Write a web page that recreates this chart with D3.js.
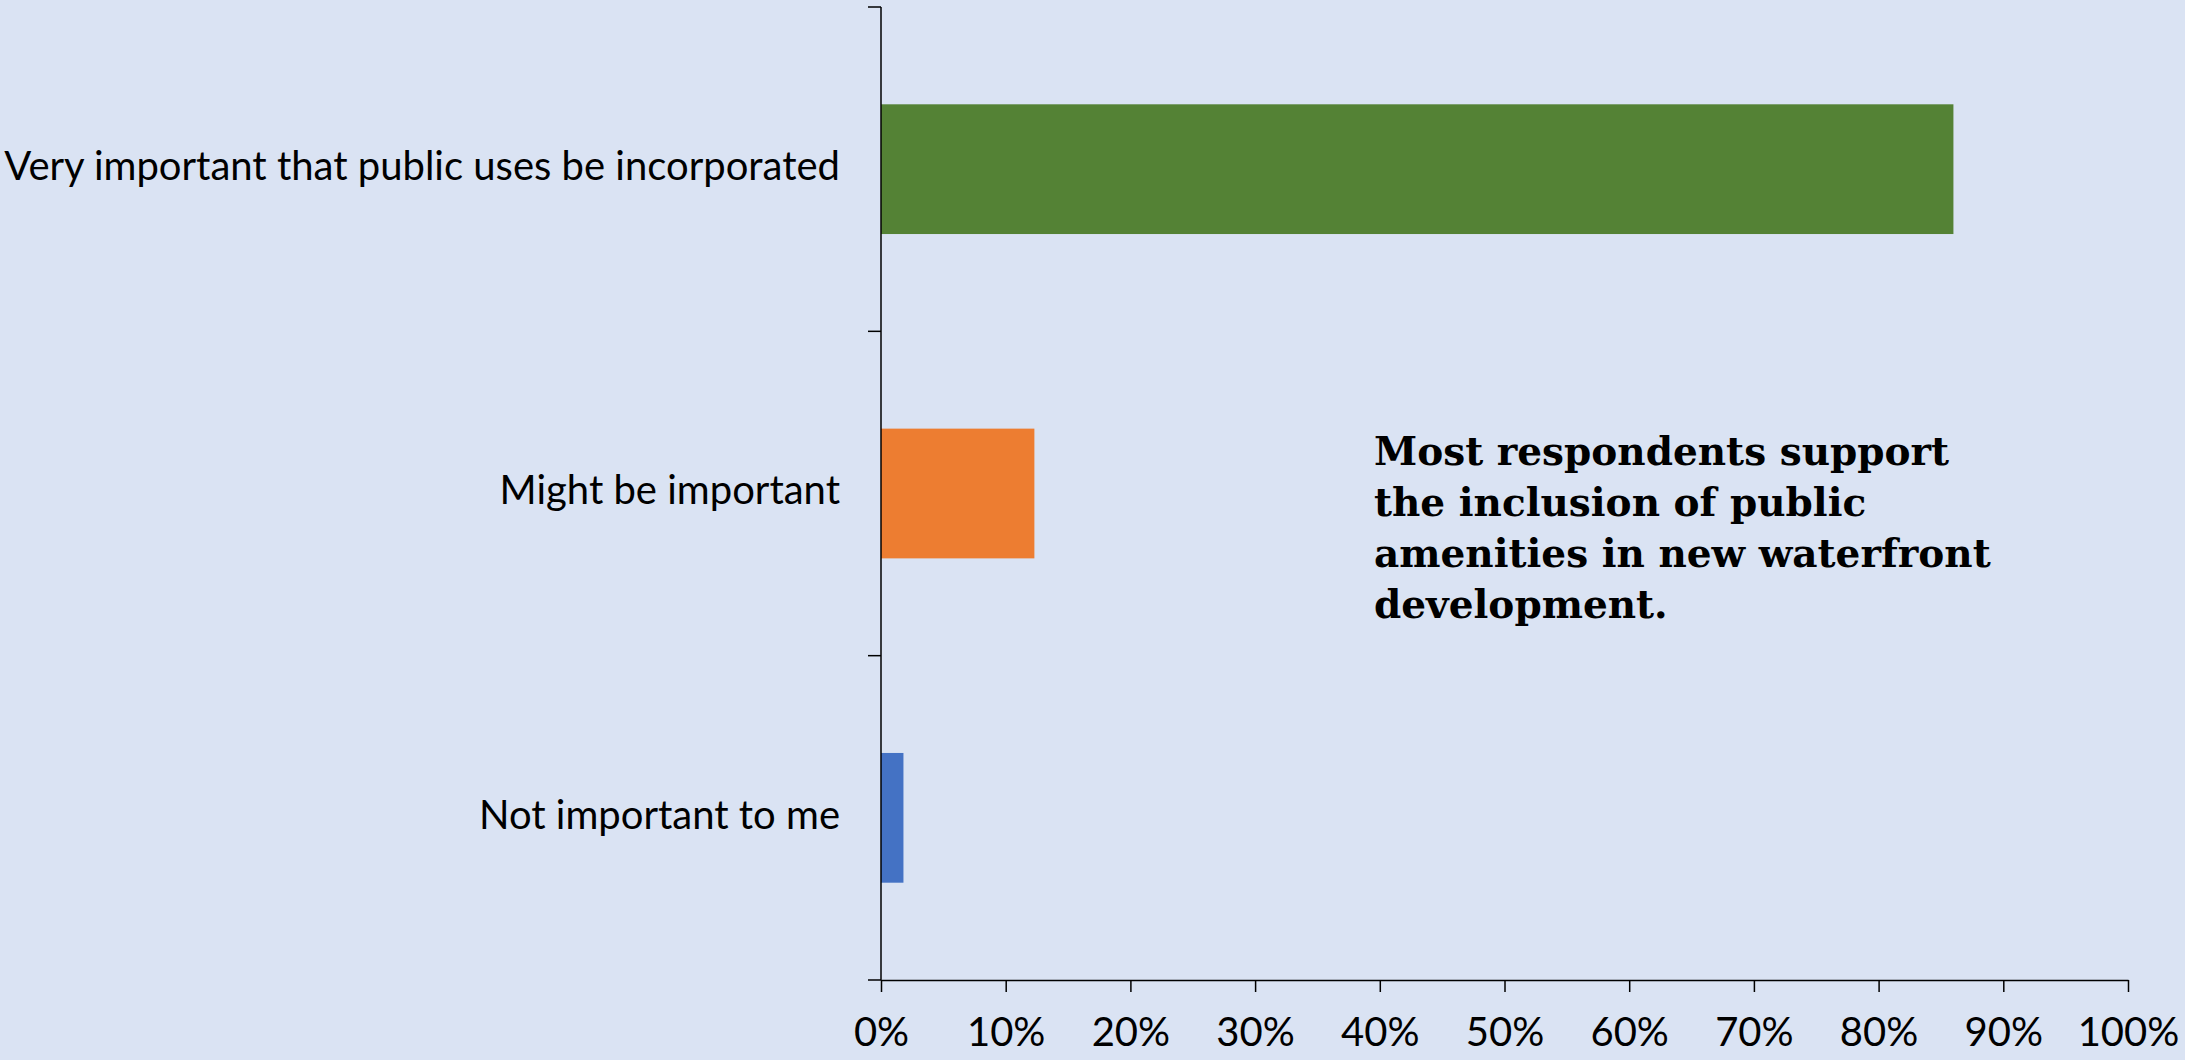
<!DOCTYPE html>
<html>
<head>
<meta charset="utf-8">
<script src="https://cdn.jsdelivr.net/npm/d3@7"></script>
<style>
  html, body { margin: 0; padding: 0; background: #DAE3F3; }
  svg { display: block; }
</style>
</head>
<body>
<svg id="chart" width="2185" height="1060"></svg>
<script>
const categories = ["Very important that public uses be incorporated", "Might be important", "Not important to me"];
const values = [0.86, 0.123, 0.018];
const colors = ["#548235", "#ED7D31", "#4472C4"];
const xTicks = [0, 0.1, 0.2, 0.3, 0.4, 0.5, 0.6, 0.7, 0.8, 0.9, 1.0];
const annotation = ["Most respondents support", "the inclusion of public", "amenities in new waterfront", "development."];

(function () {
const svg = d3.select("#chart");
const W = 2185, H = 1060;
svg.append("rect").attr("width", W).attr("height", H).attr("fill", "#DAE3F3");

const mLeft = 881, mRight = 2128, mTop = 7, mBottom = 980;
const x = d3.scaleLinear().domain([0, 1]).range([mLeft, mRight]);
const y = d3.scaleBand().domain(categories).range([mTop, mBottom]).paddingInner(0.6).paddingOuter(0.3);

const labelFont = "Lato, 'Open Sans', sans-serif";

// bars
svg.append("g").selectAll("rect").data(categories).join("rect")
  .attr("x", x(0))
  .attr("y", d => y(d))
  .attr("width", (d, i) => x(values[i]) - x(0))
  .attr("height", y.bandwidth())
  .attr("fill", (d, i) => colors[i]);

// x axis
const xAxis = svg.append("g").attr("transform", `translate(0,${mBottom})`)
  .call(d3.axisBottom(x).tickValues(xTicks).tickSize(12).tickSizeOuter(0).tickPadding(26)
    .tickFormat(d3.format(".0%")));
xAxis.select(".domain").attr("stroke", "#000").attr("stroke-width", 1.5);
xAxis.selectAll(".tick line").attr("stroke", "#000").attr("stroke-width", 1.5);
xAxis.selectAll(".tick text").attr("font-family", labelFont).attr("font-size", 40).attr("fill", "#000");

// y axis
const yAxisG = svg.append("g");
yAxisG.append("line").attr("x1", mLeft).attr("x2", mLeft).attr("y1", mTop).attr("y2", mBottom)
  .attr("stroke", "#000").attr("stroke-width", 1.5);
const step = y.step();
const bounds = d3.range(categories.length + 1).map(i => mTop + i * step);
yAxisG.selectAll("line.tk").data(bounds).join("line").attr("class", "tk")
  .attr("x1", mLeft - 13).attr("x2", mLeft).attr("y1", d => d).attr("y2", d => d)
  .attr("stroke", "#000").attr("stroke-width", 1.5);
yAxisG.selectAll("text").data(categories).join("text")
  .attr("x", mLeft - 41)
  .attr("y", d => y(d) + y.bandwidth() / 2)
  .attr("dy", "0.27em")
  .attr("text-anchor", "end")
  .attr("font-family", labelFont).attr("font-size", 40).attr("fill", "#000")
  .text(d => d);

// annotation
const ann = svg.append("text").attr("x", 1374).attr("y", 465)
  .attr("font-family", "'DejaVu Serif', 'Liberation Serif', serif")
  .attr("font-weight", "bold").attr("font-size", 39).attr("fill", "#000");
ann.selectAll("tspan").data(annotation).join("tspan")
  .attr("x", 1374).attr("dy", (d, i) => i === 0 ? 0 : 51).text(d => d);
})();
</script>
</body>
</html>
